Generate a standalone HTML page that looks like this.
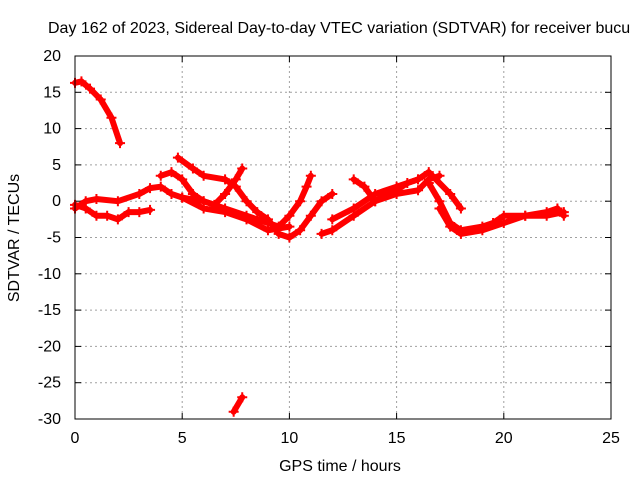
<!DOCTYPE html>
<html><head><meta charset="utf-8"><style>
body{margin:0;background:#fff}
svg{display:block;font-family:"Liberation Sans",sans-serif;font-size:16px}
</style></head><body>
<svg id="c" width="640" height="480">
<text x="48" y="33">Day 162 of 2023, Sidereal Day-to-day VTEC variation (SDTVAR) for receiver bucu</text>
<g id="grid"></g><g id="ticks"></g><g id="series"></g>
<rect x="75" y="56" width="536" height="363" fill="none" stroke="#000" stroke-width="1"/>
<text x="340" y="471" text-anchor="middle">GPS time / hours</text>
<text transform="translate(19,238) rotate(-90)" text-anchor="middle">SDTVAR / TECUs</text>
</svg>
<script>
const xTicks=[0,5,10,15,20,25];
const yTicks=[20,15,10,5,0,-5,-10,-15,-20,-25,-30];
const track1=[[0,16.3],[0.3,16.5],[0.7,15.5],[1.2,14],[1.7,11.5],[2.1,8]];
const track2=[[7.4,-29],[7.8,-27]];
const track3=[[0,-0.5],[0.5,-1],[1,-2],[1.5,-2],[2,-2.5],[2.5,-1.5],[3,-1.5],[3.5,-1.2]];
const track4=[[0,-1],[0.5,0],[1,0.3],[2,0],[3,1],[3.5,1.8],[4,2],[4.5,1],[5,0.5],[6,0],[7,-1],[8,-2],[9,-3],[9.5,-3.5],[10,-2],[10.5,0],[10.8,2],[11,3.5]];
const track5=[[4,3.5],[4.5,4],[5,3],[5.5,1],[6,0],[6.5,-0.5],[7,1],[7.5,3],[7.8,4.5]];
const track6=[[4.8,6],[5.5,4.5],[6,3.5],[7,3],[7.5,2],[8,0],[8.5,-1.5],[9,-2.5],[9.5,-4.5],[10,-5],[10.5,-4],[11,-2],[11.5,0],[12,1]];
const track7=[[11.5,-4.5],[12,-4],[13,-2],[14,0],[15,1],[16,1.5],[16.5,3],[17,3.5]];
const track8=[[12,-2.5],[13,-1],[14,1],[15,2],[16,3],[16.5,4],[17.5,1],[18,-1]];
const track9=[[13,3],[13.5,2],[14,0],[14.5,1],[15,1.5],[15.5,2.5],[16,3]];
const track10=[[16.5,2.5],[17,0],[17.5,-3],[18,-4],[19,-3.5],[19.5,-3],[20,-2],[21,-2],[22,-1.5],[22.5,-1],[22.8,-2]];
const track11=[[17,-1],[17.5,-3.5],[18,-4.5],[19,-4],[20,-3],[21,-2],[22,-2],[22.8,-1.5]];
const track12=[[5,0.5],[6,-1],[7,-1.5],[8,-2.5],[9,-4],[10,-3.5]];
const tracks=[track1,track2,track3,track4,track5,track6,track7,track8,track9,track10,track11,track12];
const NS="http://www.w3.org/2000/svg";
const X=v=>75+v*536/25, Y=v=>56+(20-v)*363/50;
function mk(t,a,p){const e=document.createElementNS(NS,t);for(const k in a)e.setAttribute(k,a[k]);p.appendChild(e);return e;}
const g=document.getElementById('grid'),tk=document.getElementById('ticks'),s=document.getElementById('series');
xTicks.forEach(v=>{const x=X(v);
 if(v>0&&v<25){const l=mk('line',{x1:x,x2:x,y1:56,y2:419,stroke:'#a0a0a0','stroke-dasharray':'2,3'},g);
 }
 mk('line',{x1:x,x2:x,y1:419,y2:413,stroke:'#000'},tk);mk('line',{x1:x,x2:x,y1:56,y2:62,stroke:'#000'},tk);
 const t=mk('text',{x:x,y:443,'text-anchor':'middle'},tk);t.textContent=v;
 });
yTicks.forEach(v=>{const y=Y(v);
 if(v<20&&v>-30){const l=mk('line',{x1:75,x2:611,y1:y,y2:y,stroke:'#a0a0a0','stroke-dasharray':'2,3'},g);
 }
 mk('line',{x1:75,x2:81,y1:y,y2:y,stroke:'#000'},tk);mk('line',{x1:605,x2:611,y1:y,y2:y,stroke:'#000'},tk);
 const t=mk('text',{x:61,y:y+5,'text-anchor':'end'},tk);t.textContent=v;
 });
tracks.forEach((tr,i)=>{
 const p=mk('polyline',{points:tr.map(d=>X(d[0])+','+Y(d[1])).join(' '),fill:'none',stroke:'#f00','stroke-width':6,'stroke-linejoin':'round','stroke-linecap':'round'},s);
 
 
 tr.forEach(d=>{const x=X(d[0]),y=Y(d[1]);
  mk('path',{d:`M${x-5},${y}H${x+5}M${x},${y-5}V${y+5}`,stroke:'#f00','stroke-width':2},s);});
});
</script>
</body></html>
